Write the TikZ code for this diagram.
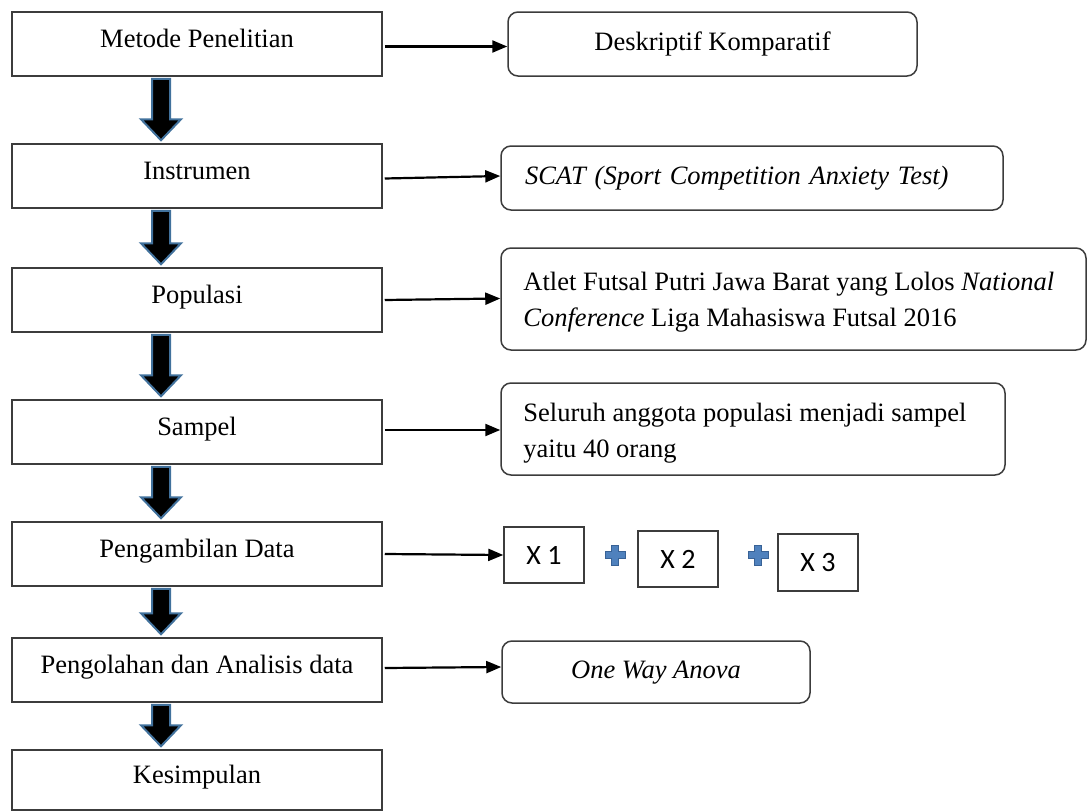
\documentclass[tikz,border=0pt]{standalone}
\usepackage{fontspec}
\setmainfont{Liberation Serif}
\newfontfamily\xfont{Carlito}
\usetikzlibrary{calc,arrows.meta}
\definecolor{bordergray}{RGB}{60,60,60}
\definecolor{arrowblue}{RGB}{65,113,156}
\definecolor{plusfill}{RGB}{79,129,189}
\definecolor{plusline}{RGB}{56,98,150}
\newcommand\mainsize{\fontsize{26.5pt}{36pt}\selectfont}
\newcommand\blkarr[2]{%
  \draw[blockarrow] let \p1=(#1.south), \p2=(#2.north) in
    (152pt,\y1-2pt) -- (170pt,\y1-2pt) -- (170pt,\y2+24pt) -- (181pt,\y2+24pt)
    -- (161pt,\y2+3pt) -- (141pt,\y2+24pt) -- (152pt,\y2+24pt) -- cycle;}
\begin{document}
\begin{tikzpicture}[x=1pt,y=-1pt,
  lbox/.style={draw=bordergray, line width=1.5pt, minimum width=370pt, minimum height=64pt,
    inner sep=0pt, text height=18pt, text depth=12pt, font=\mainsize},
  rbox/.style={draw=bordergray, line width=1.5pt, rounded corners=10pt, inner sep=0pt,
    text height=20pt, text depth=8pt, font=\mainsize},
  xbox/.style={draw=bordergray, line width=1.5pt, minimum width=80pt, minimum height=56pt,
    inner sep=0pt, font=\xfont\fontsize{28pt}{34pt}\selectfont},
  txt/.style={inner sep=0pt, align=left, font=\mainsize},
  blockarrow/.style={fill=black, draw=arrowblue, line width=2pt, line join=miter},
  harrow/.style={draw=black, line width=2.2pt, -{Triangle[length=15pt,width=12pt]}},
  plussign/.pic={\draw[fill=plusfill, draw=plusline, line width=1pt]
    (-3.5,-10) -- (3.5,-10) -- (3.5,-3.5) -- (10,-3.5) -- (10,3.5) -- (3.5,3.5)
    -- (3.5,10) -- (-3.5,10) -- (-3.5,3.5) -- (-10,3.5) -- (-10,-3.5) -- (-3.5,-3.5) -- cycle;}
]
\useasboundingbox (0,0) rectangle (1088,811);

% left column
\node[lbox] (met) at (197,44) {Metode Penelitian};
\node[lbox] (ins) at (197,176) {Instrumen};
\node[lbox] (pop) at (197,300) {Populasi};
\node[lbox] (sam) at (197,432) {Sampel};
\node[lbox] (pen) at (197,554) {Pengambilan Data};
\node[lbox] (ana) at (197,670) {Pengolahan dan Analisis data};
\node[lbox, minimum height=60pt] (kes) at (197,780) {Kesimpulan};

% right column
\node[rbox, minimum width=409pt, minimum height=64pt] (des) at (712.5,44) {Deskriptif Komparatif};
\node[rbox, minimum height=64pt, text width=454pt, inner xsep=24pt, align=left] (sca) at (752,178)
  {\textit{SCAT (Sport Competition Anxiety Test)}};
\node[rbox, minimum width=585pt, minimum height=102pt] (atl) at (793.5,299) {};
\node[txt, anchor=west] (atlt) at ($(atl.west)+(23,3)$)
  {Atlet Futsal Putri Jawa Barat yang Lolos \textit{National}\\\textit{Conference} Liga Mahasiswa Futsal 2016};
\node[rbox, minimum width=504pt, minimum height=92pt] (sel) at (753,429) {};
\node[txt, anchor=west] (selt) at ($(sel.west)+(23,4)$)
  {Seluruh anggota populasi menjadi sampel\\yaitu 40 orang};
\node[xbox] (x1) at (544,555) {X 1};
\node[xbox] (x2) at (678,559) {X 2};
\node[xbox, minimum height=57pt] (x3) at (818,562.5) {X 3};
\coordinate (p1) at (615,555);
\coordinate (p2) at (758,555);
\pic at (p1) {plussign};
\pic at (p2) {plussign};
\node[rbox, minimum width=308pt, minimum height=62pt] (ano) at (656,672) {\textit{One Way Anova}};

% block arrows
\blkarr{met}{ins}
\blkarr{ins}{pop}
\blkarr{pop}{sam}
\blkarr{sam}{pen}
\blkarr{pen}{ana}
\blkarr{ana}{kes}

% horizontal arrows
\draw[harrow] ([xshift=2pt,yshift=-2.5pt]met.east) -- ([yshift=-2.5pt]des.west);
\draw[harrow] ([xshift=2pt,yshift=-2.5pt]ins.east) -- ([yshift=2pt]sca.west);
\draw[harrow] ([xshift=2pt]pop.east) -- ([yshift=0.5pt]atl.west);
\draw[harrow] ([xshift=2pt,yshift=2pt]sam.east) -- ([yshift=-1pt]sel.west);
\draw[harrow] ([xshift=2pt]pen.east) -- (x1.west);
\draw[harrow] ([xshift=2pt,yshift=2pt]ana.east) -- ([yshift=5pt]ano.west);
\end{tikzpicture}
\end{document}
